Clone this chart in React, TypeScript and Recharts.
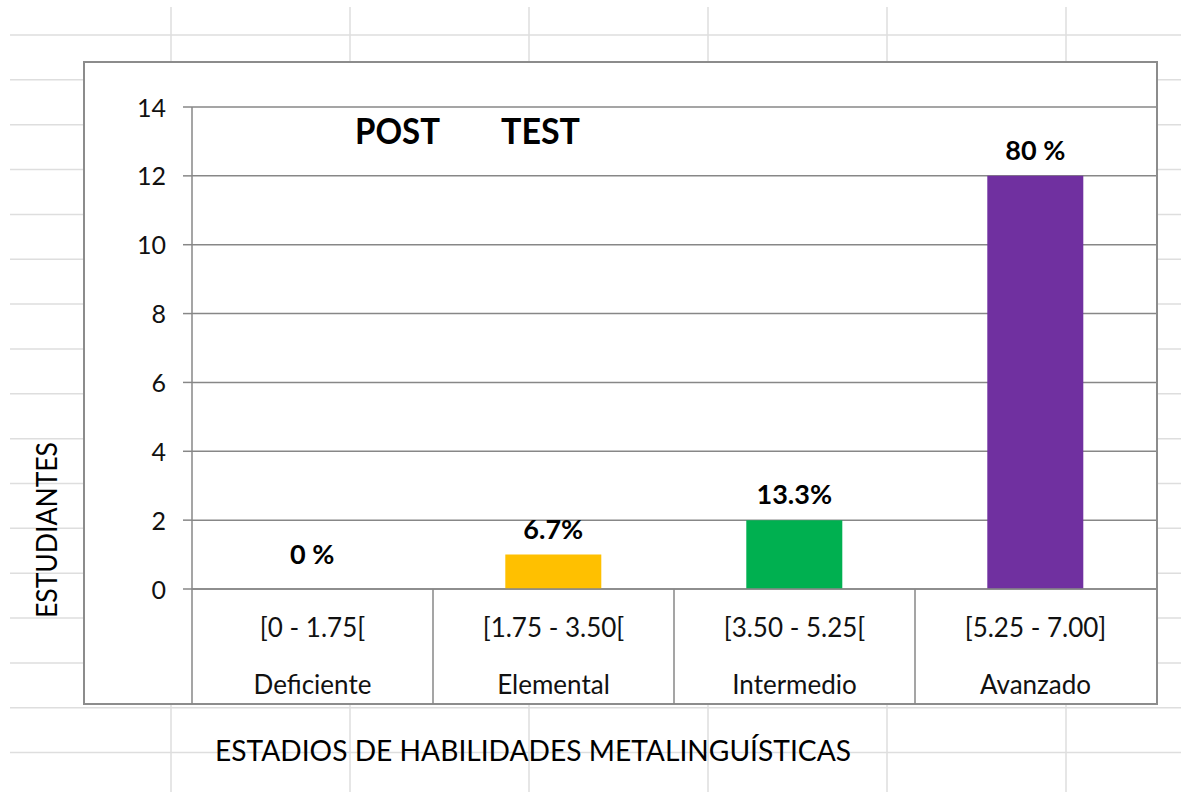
import React from "react";
import { BarChart, Bar, XAxis, YAxis, CartesianGrid, Cell, LabelList } from "recharts";

const CATEGORY_RANGES = ["[0 - 1.75[", "[1.75 - 3.50[", "[3.50 - 5.25[", "[5.25 - 7.00]"];
const CATEGORY_NAMES = ["Deficiente", "Elemental", "Intermedio", "Avanzado"];
const STUDENT_COUNTS = [0, 1, 2, 12];
const PERCENT_LABELS = ["0 %", "6.7%", "13.3%", "80 %"];
const BAR_COLORS = ["#FFC000", "#FFC000", "#00B050", "#7030A0"];
const Y_TICKS = [0, 2, 4, 6, 8, 10, 12, 14];
const TITLE_WORDS = ["POST", "TEST"];
const Y_TITLE = "ESTUDIANTES";
const X_TITLE = "ESTADIOS DE HABILIDADES METALINGUÍSTICAS";

const data = CATEGORY_RANGES.map((range, i) => ({
  range,
  name: CATEGORY_NAMES[i],
  count: STUDENT_COUNTS[i],
  label: PERCENT_LABELS[i],
}));

const W = 1181;
const H = 792;
const FONT = "Lato, 'Open Sans', 'DejaVu Sans', sans-serif";
const AXIS_GRAY = "#878787";
const SHEET_GRAY = "#dedede";

const rowLines: number[] = [];
for (let k = 0; k < 17; k++) rowLines.push(35 + 44.85 * k);
const colLines: number[] = [];
for (let k = 0; k < 6; k++) colLines.push(171 + 179 * k);

const YTick = (props: any) => {
  const { x, y, payload } = props;
  return (
    <text x={x} y={y + 9.5} textAnchor="end" fontFamily={FONT} fontSize={25} fill="#111">
      {payload.value}
    </text>
  );
};

const XTick = (props: any) => {
  const { x, y, payload, index, width, visibleTicksCount } = props;
  const half =
    payload && payload.offset > 0 ? payload.offset : (width || 964) / (visibleTicksCount || 4) / 2;
  return (
    <g>
      <line x1={x - half} y1={y} x2={x - half} y2={y + 115} stroke={AXIS_GRAY} strokeWidth={1.5} />
      <text x={x} y={y + 48} textAnchor="middle" fontFamily={FONT} fontSize={26} fill="#111">
        {payload.value}
      </text>
      <text x={x} y={y + 105} textAnchor="middle" fontFamily={FONT} fontSize={26} fill="#111">
        {CATEGORY_NAMES[index]}
      </text>
    </g>
  );
};

const BarValueLabel = (props: any) => {
  const { x, y, width, height, value } = props;
  const base = height >= 1 ? y - 16 : y - 25;
  return (
    <text
      x={x + width / 2}
      y={base}
      textAnchor="middle"
      fontFamily={FONT}
      fontWeight={700}
      fontSize={27}
      fill="#000"
    >
      {value}
    </text>
  );
};

export default function App() {
  return (
    <div
      style={{
        position: "absolute",
        left: 0,
        top: 0,
        width: W,
        height: H,
        overflow: "hidden",
        background: "#fff",
        fontFamily: FONT,
      }}
    >
      <svg width={W} height={H} style={{ position: "absolute", left: 0, top: 0 }}>
        {rowLines.map((yy, i) => (
          <line key={"r" + i} x1={10} y1={yy} x2={W} y2={yy} stroke={SHEET_GRAY} strokeWidth={1.5} />
        ))}
        {colLines.map((xx, i) => (
          <line key={"c" + i} x1={xx} y1={7} x2={xx} y2={H} stroke={SHEET_GRAY} strokeWidth={1.5} />
        ))}
        <rect x={84} y={62} width={1073} height={642} fill="#fff" stroke="#8c8c8c" strokeWidth={2} />
        <text x={355} y={144} fontFamily={FONT} fontWeight={700} fontSize={36} fill="#000" textLength={85} lengthAdjust="spacingAndGlyphs">
          {TITLE_WORDS[0]}
        </text>
        <text x={501} y={144} fontFamily={FONT} fontWeight={700} fontSize={36} fill="#000" textLength={79} lengthAdjust="spacingAndGlyphs">
          {TITLE_WORDS[1]}
        </text>
        <text
          transform="translate(57,530) rotate(-90)"
          textAnchor="middle"
          fontFamily={FONT}
          fontSize={28}
          fill="#000"
          textLength={176}
          lengthAdjust="spacingAndGlyphs"
        >
          {Y_TITLE}
        </text>
        <text x={215} y={761} fontFamily={FONT} fontSize={28} fill="#000" textLength={636} lengthAdjust="spacingAndGlyphs">
          {X_TITLE}
        </text>
      </svg>
      <div style={{ position: "absolute", left: 0, top: 0 }}>
        <BarChart
          width={W}
          height={H}
          data={data}
          margin={{ top: 107, right: 25, bottom: 88, left: 162 }}
          barCategoryGap="30%"
        >
          <CartesianGrid vertical={false} stroke={AXIS_GRAY} strokeWidth={1.5} />
          <XAxis
            dataKey="range"
            height={115}
            interval={0}
            tickLine={false}
            tickSize={0}
            tickMargin={0}
            axisLine={{ stroke: AXIS_GRAY, strokeWidth: 1.5 }}
            tick={<XTick />}
          />
          <YAxis
            width={30}
            domain={[0, 14]}
            ticks={Y_TICKS}
            interval={0}
            tickSize={9}
            tickMargin={17}
            tickLine={{ stroke: AXIS_GRAY, strokeWidth: 1.5 }}
            axisLine={{ stroke: AXIS_GRAY, strokeWidth: 1.5 }}
            tick={<YTick />}
          />
          <Bar dataKey="count" minPointSize={0.01} isAnimationActive={false}>
            {data.map((d, i) => (
              <Cell key={d.range} fill={BAR_COLORS[i]} />
            ))}
            <LabelList dataKey="label" content={<BarValueLabel />} />
          </Bar>
        </BarChart>
      </div>
    </div>
  );
}
